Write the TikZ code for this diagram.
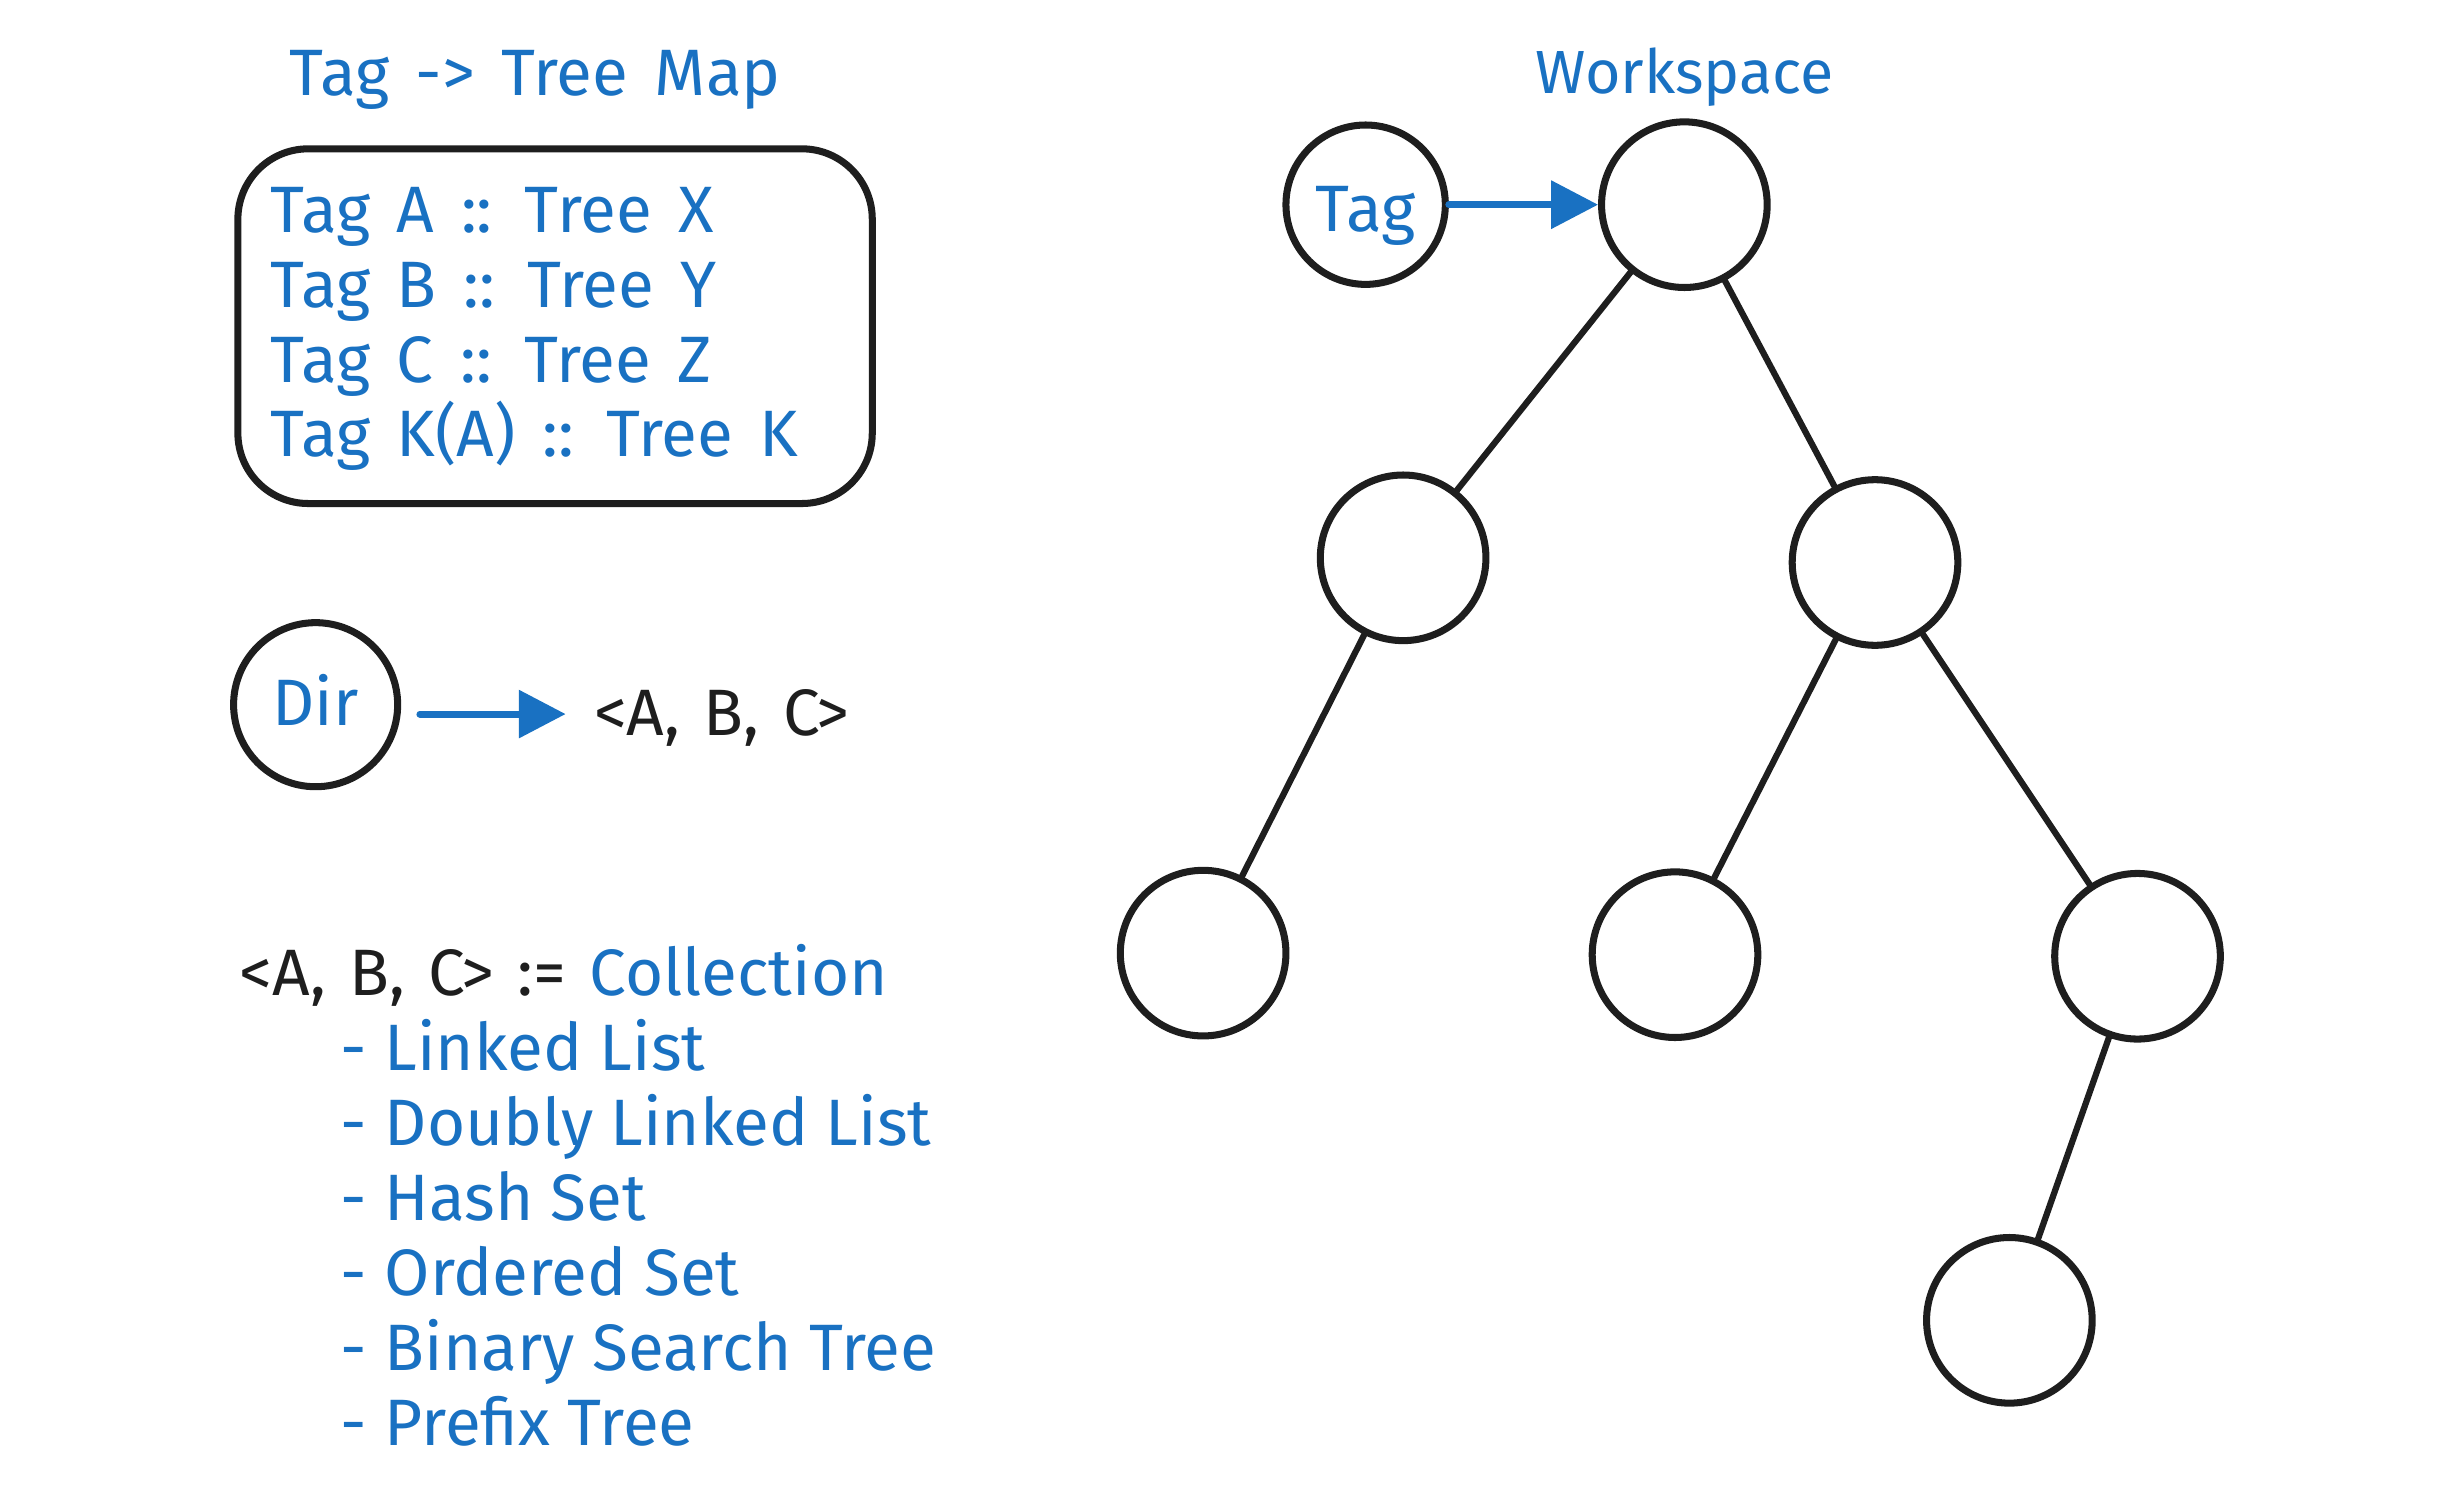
\documentclass[tikz,border=0pt]{standalone}
\usepackage{fontspec}
\setmainfont{Fira Sans}
\usetikzlibrary{arrows.meta}
\definecolor{inkblue}{HTML}{1971C2}
\definecolor{ink}{HTML}{1E1E1E}
\newcommand\myWideSp{\spaceskip 17pt\relax}
\newcommand\myMidSp{\spaceskip 15pt\relax}
\tikzset{
  txt/.style={inner sep=0pt, font=\fontsize{42}{48}\selectfont, anchor=base west},
  bluetxt/.style={txt, text=inkblue},
  widetxt/.style={bluetxt, font=\fontsize{42}{48}\selectfont\myWideSp},
  blacktxt/.style={txt, text=ink, font=\fontsize{42}{48}\selectfont\myMidSp},
  treenode/.style={circle, draw=ink, line width=4.5pt, minimum size=106pt, inner sep=0pt},
  treeedge/.style={draw=ink, line width=4pt, line cap=round},
  bluearrow/.style={draw=inkblue, line width=4.5pt, line cap=round, -{Triangle[length=30pt,width=30pt]}},
  mapbox/.style={draw=ink, line width=4.5pt, rounded corners=45pt}
}
\begin{document}
\begin{tikzpicture}[x=1pt,y=-1pt]
\useasboundingbox (0,0) rectangle (1568,960);
% Tag -> Tree Map
\node[widetxt] (maptitle) at (185,61) {Tag -> Tree Map};
\node[mapbox, minimum width=406pt, minimum height=227pt, anchor=north west] (box) at (150,93) {};
\node[widetxt] (ta) at (173,149) {Tag A :: Tree X};
\node[widetxt] (tb) at (173,197) {Tag B :: Tree Y};
\node[widetxt] (tc) at (173,245) {Tag C :: Tree Z};
\node[widetxt] (tk) at (173,292) {Tag K(A) :: Tree K};
% Dir
\node[treenode, minimum size=105pt] (dir) at (202,451) {};
\node[bluetxt, anchor=base] (dirlbl) at (202,464) {Dir};
\node[blacktxt] (abc) at (380,471) {<A, B, C>};
\coordinate (dirout) at ([xshift=12pt,yshift=-6pt]dir.east);
\draw[bluearrow] (dirout) -- ([xshift=-18pt]dirout -| abc.west);
% Collection
\node[blacktxt] (coll) at (153,637) {<A, B, C> := \textcolor{inkblue}{Collection}};
\node[bluetxt] (l1) at (218,685) {- Linked List};
\node[bluetxt] (l2) at (218,733) {- Doubly Linked List};
\node[bluetxt] (l3) at (218,781) {- Hash Set};
\node[bluetxt] (l4) at (218,829) {- Ordered Set};
\node[bluetxt] (l5) at (218,877) {- Binary Search Tree};
\node[bluetxt] (l6) at (218,925) {- Prefix Tree};
% Workspace
\node[bluetxt, anchor=base, font=\fontsize{39}{45}\selectfont] (ws) at (1078,60) {Workspace};
\node[treenode, minimum size=102pt] (tag) at (874,131) {};
\node[bluetxt, anchor=base] (taglbl) at (874,148) {Tag};
\node[treenode] (root) at (1078,131) {};
\node[treenode] (l) at (898,357) {};
\node[treenode] (r) at (1200,360) {};
\node[treenode] (ll) at (770,610) {};
\node[treenode] (rl) at (1072,611) {};
\node[treenode] (rr) at (1368,612) {};
\node[treenode] (rrl) at (1286,845) {};
\draw[bluearrow] (tag) -- (root);
\draw[treeedge] (root) -- (l);
\draw[treeedge] (root) -- (r);
\draw[treeedge] (l) -- (ll);
\draw[treeedge] (r) -- (rl);
\draw[treeedge] (r) -- (rr);
\draw[treeedge] (rr) -- (rrl);
\end{tikzpicture}
\end{document}
